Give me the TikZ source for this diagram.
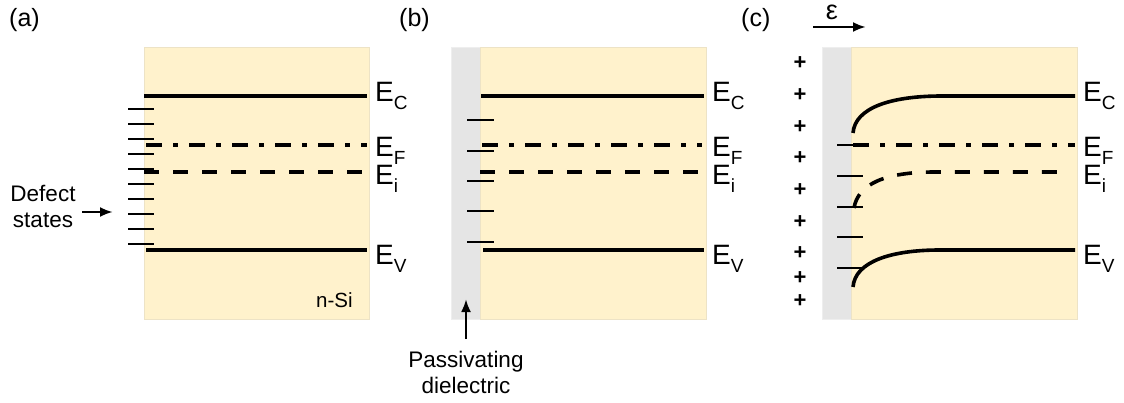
\documentclass[tikz,border=0pt]{standalone}
\usepackage{fontspec}
\setmainfont{Liberation Sans}
\usetikzlibrary{arrows.meta}
\definecolor{yellowbg}{HTML}{FFF2CC}
\definecolor{yellowedge}{HTML}{EDE3C6}
\definecolor{graybg}{HTML}{E5E5E5}
\definecolor{grayedge}{HTML}{EEEEEE}
\newcommand\Elab[1]{E\raisebox{-8pt}{\fontsize{19}{19}\selectfont #1}}
\tikzset{
  band/.style={line width=3.6pt},
  fermi/.style={band, dash pattern=on 16pt off 11pt on 5pt off 11pt},
  intr/.style={band, dash pattern=on 15pt off 14pt},
  defect/.style={line width=2.2pt},
  ybox/.style={fill=yellowbg, draw=yellowedge, line width=0.8pt},
  gbox/.style={fill=graybg, draw=grayedge, line width=0.8pt},
  elabel/.style={inner sep=0pt, anchor=base west, font=\fontsize{28}{28}\selectfont},
  panel/.style={inner sep=0pt, anchor=base west, font=\fontsize{25}{25}\selectfont},
  note/.style={inner sep=0pt, anchor=base, font=\fontsize{22.5}{22.5}\selectfont},
  plus/.style={inner sep=0pt, anchor=base, font=\fontsize{22}{22}\selectfont\bfseries},
  arr/.style={line width=2.6pt, -{Latex[length=13pt, width=10pt]}},
}
\begin{document}
\begin{tikzpicture}[x=1pt, y=-1pt]
\useasboundingbox (0,0) rectangle (1124,403);

% ---------------- panel (a)
\node[panel] (pa) at (9,27) {(a)};
\fill[ybox] (144,47) rectangle (369,319);
\foreach \y in {109,124,139,154,169,184,199,214,229,244}
  \draw[defect] (128,\y) -- (154,\y);
\draw[band]  (144,96)  -- (367,96);
\draw[fermi] (146,145) -- (367,145);
\draw[intr]  (144,172) -- (369,172);
\draw[band]  (146,250) -- (367,250);
\node[elabel] (aEC) at (375,102) {\Elab{C}};
\node[elabel] (aEF) at (375,157) {\Elab{F}};
\node[elabel] (aEi) at (375,185) {\Elab{i}};
\node[elabel] (aEV) at (375,265) {\Elab{V}};
\node[note] (def1) at (43,202) {Defect};
\node[note] (def2) at (43,228) {states};
\coordinate (defA) at (82,212);
\coordinate (defB) at (113,212);
\draw[arr] (defA) -- (defB);
\node[inner sep=0pt, anchor=base west, font=\fontsize{20.5}{20.5}\selectfont] (nsi) at (316,307) {n-Si};

% ---------------- panel (b)
\node[panel] (pb) at (399,27) {(b)};
\fill[gbox] (451,47) rectangle (480,319);
\fill[ybox] (480,47) rectangle (706,319);
\foreach \y in {120,151,181,211,242}
  \draw[defect] (467,\y) -- (494,\y);
\draw[band]  (481,96)  -- (704,96);
\draw[fermi] (482,145) -- (702,145);
\draw[intr]  (480,172) -- (706,172);
\draw[band]  (483,250) -- (704,250);
\node[elabel] (bEC) at (712,102) {\Elab{C}};
\node[elabel] (bEF) at (712,157) {\Elab{F}};
\node[elabel] (bEi) at (712,185) {\Elab{i}};
\node[elabel] (bEV) at (712,265) {\Elab{V}};
\node[note] (pas1) at (466,367) {Passivating};
\node[note] (pas2) at (466,393) {dielectric};
\coordinate (pasA) at (466,339);
\coordinate (pasB) at (466,299);
\draw[arr] (pasA) -- (pasB);

% ---------------- panel (c)
\node[panel] (pc) at (741,27) {(c)};
\node[inner sep=0pt, anchor=base, font=\fontsize{27}{27}\selectfont] (eps) at (832,20) {ε};
\coordinate (epsA) at (813,27);
\coordinate (epsB) at (866,27);
\draw[arr] (epsA) -- (epsB);
\fill[gbox] (822,47) rectangle (851,319);
\fill[ybox] (851,47) rectangle (1077,319);
\foreach \y in {145,176,207,237,268}
  \draw[defect] (837,\y) -- (863,\y);
\draw[band]  (853,133) .. controls (855,108) and (890,96) .. (942,96) -- (1075,96);
\draw[fermi] (853,145) -- (1075,145);
\draw[intr]  (854,208) .. controls (858,184) and (885,172) .. (935,172) -- (1066,172);
\draw[band]  (853,287) .. controls (855,262) and (890,250) .. (940,250) -- (1075,250);
\node[elabel] (cEC) at (1083,102) {\Elab{C}};
\node[elabel] (cEF) at (1083,157) {\Elab{F}};
\node[elabel] (cEi) at (1083,185) {\Elab{i}};
\node[elabel] (cEV) at (1083,265) {\Elab{V}};
\foreach \y [count=\i] in {62,94,126,157,189,221,252,276,300}
  \node[plus] (plus\i) at (800,\y+8) {+};
\end{tikzpicture}
\end{document}
